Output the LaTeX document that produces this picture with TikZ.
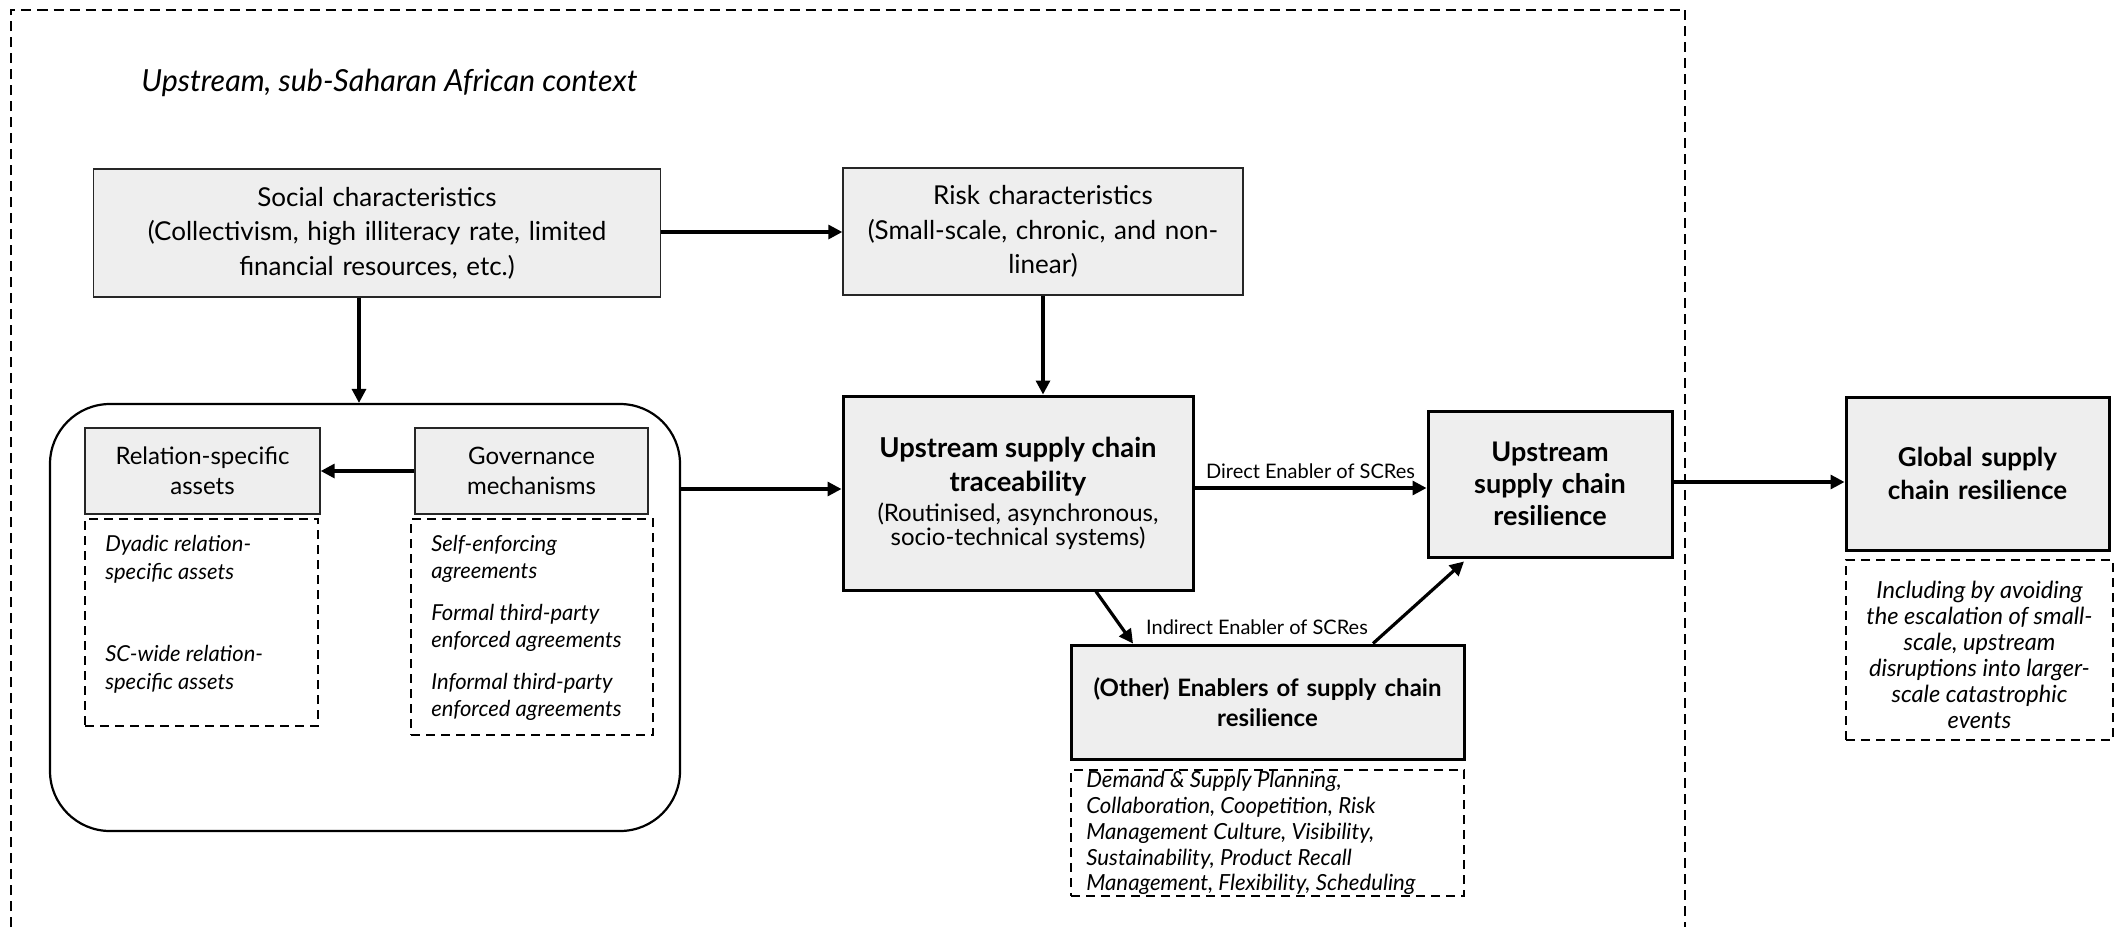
\documentclass[tikz,border=0pt]{standalone}
\usepackage{fontspec}
\setmainfont{Lato}
\usetikzlibrary{arrows.meta,calc}
\definecolor{boxgray}{HTML}{EEEEEE}
\begin{document}
\begin{tikzpicture}[x=0.5pt,y=-0.5pt,
  lightbox/.style={draw=black!85, line width=0.7pt, fill=boxgray, align=center, inner sep=0pt,
    font=\fontsize{13}{17.2}\selectfont},
  heavybox/.style={draw=black, line width=1.5pt, fill=boxgray, align=center, inner sep=0pt},
  dashbox/.style={draw=black, line width=1.1pt, dash pattern=on 4.5pt off 3pt},
  itext/.style={inner sep=0pt, font=\itshape\fontsize{11}{14}\selectfont},
  arr/.style={line width=1.6pt, -{Triangle[length=7pt,width=7pt]}},
  elabel/.style={font=\fontsize{10}{12}\selectfont, inner sep=1pt}
]
\useasboundingbox (0,0) rectangle (2125,927);
% outer dashed frame
\draw[line width=1pt, dash pattern=on 5pt off 3pt] (11,927) -- (11,9.5) -- (1685,9.5) -- (1685,927);
\node[anchor=west, inner sep=0pt, font=\itshape\fontsize{15.2}{18}\selectfont] (title) at (141,83) {Upstream, sub-Saharan African context};

% top boxes
\node[lightbox, minimum width=283.75pt, minimum height=64pt, text width=278pt] (social) at (377,233)
  {Social characteristics\\(Collectivism, high illiteracy rate, limited\\financial resources, etc.)};
\node[lightbox, minimum width=200pt, minimum height=63.5pt, text width=196pt] (risk) at (1043,231.5)
  {Risk characteristics\\(Small-scale, chronic, and non-\\linear)};

% container
\node[draw, line width=1.1pt, rounded corners=30pt, minimum width=315pt, minimum height=213.5pt] (cont) at (365,617.5) {};
\node[lightbox, minimum width=117.5pt, minimum height=43pt, text width=114pt, font=\fontsize{12}{15}\selectfont] (rel) at (202.5,471)
  {Relation-specific\\assets};
\node[lightbox, minimum width=116.5pt, minimum height=43pt, text width=113pt, font=\fontsize{12}{15}\selectfont] (gov) at (531.5,471)
  {Governance\\mechanisms};
\node[dashbox, minimum width=116.5pt, minimum height=103.5pt] (reld) at (201.5,622.5) {};
\node[dashbox, minimum width=121pt, minimum height=108pt] (govd) at (532,627) {};
\node[itext, anchor=north west, align=left] (reltxt) at ($(reld.north west)+(21,17)$)
  {Dyadic relation-\\specific assets\\[27pt]SC-wide relation-\\specific assets};
\node[itext, anchor=north west, align=left, font=\itshape\fontsize{11}{13.5}\selectfont] (govtxt) at ($(govd.north west)+(21,17)$)
  {Self-enforcing\\agreements\\[7.5pt]Formal third-party\\enforced agreements\\[7.5pt]Informal third-party\\enforced agreements};

% traceability
\node[heavybox, minimum width=175pt, minimum height=97pt, text width=171pt] (trace) at (1018,493)
  {{\fontsize{13.7}{17}\selectfont\bfseries Upstream supply chain\\traceability\\}
   {\fontsize{12}{15}\selectfont (Routinised, asynchronous,\\socio-technical systems)}\\[8pt]};

% upstream resilience
\node[heavybox, minimum width=122pt, minimum height=73pt, text width=118pt, font=\fontsize{13.5}{16}\selectfont\bfseries] (upres) at (1550,484)
  {Upstream\\supply chain\\resilience};

% other enablers
\node[heavybox, minimum width=196.5pt, minimum height=57pt, text width=193pt, font=\fontsize{12}{15}\selectfont\bfseries] (other) at (1267.5,702)
  {(Other) Enablers of supply chain\\resilience};
\node[dashbox, minimum width=196.5pt, minimum height=63pt] (otherd) at (1267.5,833) {};
\node[itext, anchor=north west, align=left, font=\itshape\fontsize{11.1}{12.9}\selectfont] (othertxt) at ($(otherd.north west)+(16,2)$)
  {Demand \& Supply Planning,\\Collaboration, Coopetition, Risk\\Management Culture, Visibility,\\Sustainability, Product Recall\\Management, Flexibility, Scheduling};

% global
\node[heavybox, minimum width=131.5pt, minimum height=76.5pt, text width=128pt, font=\fontsize{13}{16.5}\selectfont\bfseries] (global) at (1977.5,473.5)
  {Global supply\\chain resilience};
\node[dashbox, minimum width=133.5pt, minimum height=90pt] (globald) at (1979.5,650) {};
\node[itext, anchor=north, align=center, font=\itshape\fontsize{11.8}{13}\selectfont] (globaltxt) at ($(globald.north)+(0,22)$)
  {Including by avoiding\\the escalation of small-\\scale, upstream\\disruptions into larger-\\scale catastrophic\\events};

% helper coordinates
\coordinate (sy) at (750,232);
\coordinate (sx) at (359,350);
\coordinate (cy) at (760,489);
\coordinate (dy) at (1300,488);
\coordinate (gy) at (1750,482);

% connectors
\draw[arr] (social.east |- sy) -- (risk.west |- sy);
\draw[arr] (social.south -| sx) -- (cont.north -| sx);
\draw[arr] (risk.south) -- (risk.south |- trace.north);
\draw[arr] (gov.west) -- (rel.east);
\draw[arr] (cont.east |- cy) -- (trace.west |- cy);
\draw[arr] (trace.east |- dy) -- node[elabel, above=3pt] (dlabel) {Direct Enabler of SCRes} (upres.west |- dy);
\draw[arr] (upres.east |- gy) -- (global.west |- gy);
\draw[arr] ($(trace.south)+(78,0)$) -- ($(other.north)+(-134.5,0)$);
\draw[arr] ($(other.north)+(105.5,0)$) -- ($(upres.south)+(-86,3)$);
\node[elabel] (ilabel) at ($(other.north)+(-10.5,-16)$) {Indirect Enabler of SCRes};
\end{tikzpicture}
\end{document}
